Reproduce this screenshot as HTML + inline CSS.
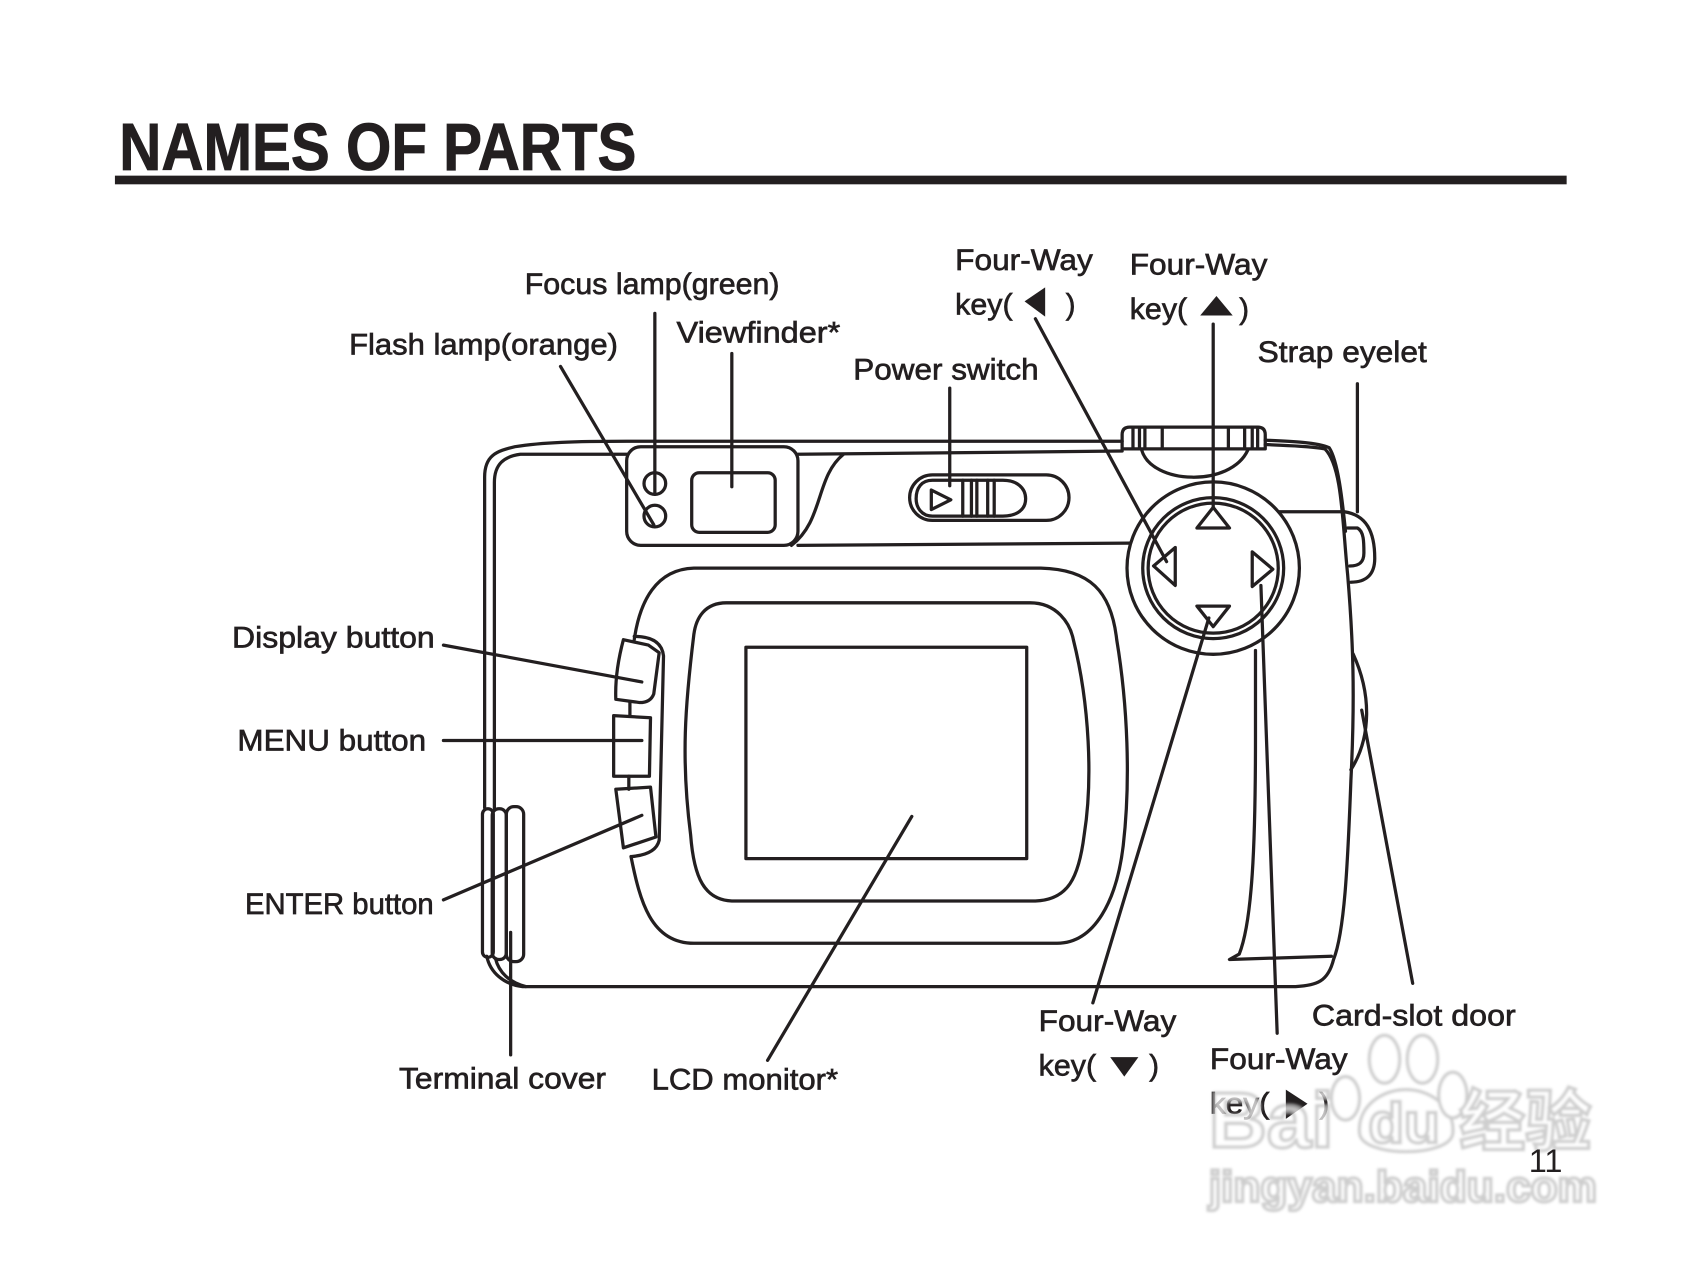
<!DOCTYPE html>
<html><head><meta charset="utf-8"><style>
html,body{margin:0;padding:0;background:#fff;width:1700px;height:1280px;overflow:hidden}
svg{display:block}
.l{fill:none;stroke:#231f20;stroke-width:3;stroke-linecap:round;stroke-linejoin:round}
.t{font-family:"Liberation Sans",sans-serif;font-size:27px;fill:#231f20;stroke:#231f20;stroke-width:.6}
.wm{font-family:"Liberation Sans","Noto Sans CJK SC",sans-serif;font-weight:bold;fill:#fff;stroke:#bbb;stroke-width:3}
</style></head><body>
<svg width="1700" height="1280" viewBox="0 0 1568 1180.6" xmlns="http://www.w3.org/2000/svg">
<defs><filter id="b" x="-5%" y="-5%" width="110%" height="110%"><feGaussianBlur stdDeviation="1.3"/></filter></defs>
<rect width="1568" height="1180.6" fill="#fff"/>
<text x="110" y="157" textLength="477" lengthAdjust="spacingAndGlyphs" font-family="'Liberation Sans',sans-serif" font-weight="bold" font-size="62" fill="#231f20" stroke="#231f20" stroke-width=".8">NAMES OF PARTS</text>
<rect x="106" y="162" width="1339" height="8" fill="#231f20"/>

<g class="l">
<!-- body -->
<path d="M447 745V440C447 420 458 416 475 412C500 408 530 407 578 407H1035"/>
<path d="M456 746V445C456 428 465 421 480 419H578"/>
<path d="M449 882C452 897 465 908 482 910H1195C1215 909 1225 905 1230 885C1240 860 1243 800 1246 720C1250 640 1248 590 1243 530C1238 480 1238 430 1222 414C1205 411 1185 411 1167 410"/>
<path d="M457 884C460 897 470 906 485 910"/>
<path d="M1167 406C1190 407 1215 408 1226 413C1234 425 1238 460 1241 490"/>
<rect x="445" y="746" width="10" height="137" rx="5"/>
<rect x="454" y="746" width="13" height="139" rx="6"/>
<rect x="467" y="744" width="16" height="143" rx="7"/>
<!-- flash panel -->
<rect x="578" y="412" width="158" height="91" rx="13"/>
<circle cx="604" cy="446" r="10"/>
<circle cx="604" cy="476" r="10"/>
<rect x="638" y="436" width="77" height="55" rx="7"/>
<path d="M736 419L1035 416"/>
<path d="M778 419C752 440 760 480 730 503"/>
<path d="M736 503L1042 501"/>
<!-- slider -->
<rect x="839" y="438" width="147" height="42" rx="21"/>
<path d="M860 443H925C938 443 946 450 946 460C946 470 938 476 925 476H860C850 476 845 468 845 460C845 450 850 443 860 443Z"/>
<path d="M859 452L877 461L859 470Z"/>
<path d="M888 443V476M896 443V476M901 443V476M911 443V476M917 443V476"/>
<!-- top dial -->
<path d="M1035 414V401Q1035 394 1042 394H1160Q1167 394 1167 401V414M1035 414H1167"/>
<path d="M1045 394V414M1051 394V414M1056 394V414M1072 394V414M1133 394V414M1148 394V414M1155 394V414M1160 394V414"/>
<path d="M1053 415C1062 447 1135 450 1151 415"/>
<!-- four-way -->
<circle cx="1119" cy="524" r="79.5"/>
<circle cx="1119" cy="524" r="65"/>
<circle cx="1119" cy="524" r="60"/>
<path d="M1104 487L1119 468L1134 487Z"/>
<path d="M1084 505L1064 522L1084 540Z"/>
<path d="M1155 509L1174 525L1155 541Z"/>
<path d="M1104 559H1134L1119 578Z"/>
<!-- strap -->
<path d="M1180 472H1240C1260 475 1268 490 1268 515C1268 530 1260 537 1246 537"/>
<path d="M1243 487H1252C1258 490 1258 500 1258 510C1258 520 1252 522 1245 522"/>
<!-- LCD frames -->
<path d="M585 590C590 555 605 525 640 524H960C1005 525 1025 545 1030 590C1040 650 1043 720 1036 780C1030 830 1010 870 975 870H640C600 870 590 830 582 790"/>
<path d="M670 556H950C975 556 987 575 990 590C1005 650 1008 720 1000 770C995 810 985 830 955 831H675C650 830 640 810 637 770C628 700 632 650 640 585C642 570 650 556 670 556Z"/>
<rect x="688" y="597" width="259" height="195"/>
<!-- buttons -->
<path d="M585 587Q610 587 612 605L608 775Q605 788 583 790"/>
<path d="M575 590L598 595L608 602L603 640Q600 648 590 648L568 645Q567 620 575 590Z" fill="#fff"/>
<path d="M566 660L600 662L599 716H566Z" fill="#fff"/>
<path d="M568 728L600 726L605 772L575 782Z" fill="#fff"/>
<path d="M581 648V660M580 716V728"/>
<!-- right interior -->
<path d="M1158 600V680C1158 780 1155 850 1143 880L1134 885L1228 882"/>
<path d="M1248 603C1265 640 1265 680 1246 710"/>
<!-- leaders -->
<path d="M517 338L603 484M604 289V456M675 326V449M876 358V448M955 294L1076 518M1119 299V468M1252 354V472M409 595L592 629M409 683H592M409 830L592 752M471 860V973M708 978L841 753M1008 925L1115 570M1178 953L1163 540M1303 907L1256 655"/>
</g>

<g class="t">
<text x="484" y="271" textLength="235" lengthAdjust="spacingAndGlyphs">Focus lamp(green)</text>
<text x="322" y="327" textLength="248" lengthAdjust="spacingAndGlyphs">Flash lamp(orange)</text>
<text x="624" y="316" textLength="151" lengthAdjust="spacingAndGlyphs">Viewfinder*</text>
<text x="787" y="350" textLength="171" lengthAdjust="spacingAndGlyphs">Power switch</text>
<text x="881" y="249" textLength="127" lengthAdjust="spacingAndGlyphs">Four-Way</text>
<text x="881" y="290" textLength="53" lengthAdjust="spacingAndGlyphs">key(</text>
<text x="983" y="290">)</text>
<text x="1042" y="253" textLength="127" lengthAdjust="spacingAndGlyphs">Four-Way</text>
<text x="1042" y="294" textLength="53" lengthAdjust="spacingAndGlyphs">key(</text>
<text x="1143" y="294">)</text>
<text x="1160" y="334" textLength="156" lengthAdjust="spacingAndGlyphs">Strap eyelet</text>
<text x="214" y="597" textLength="187" lengthAdjust="spacingAndGlyphs">Display button</text>
<text x="219" y="692" textLength="174" lengthAdjust="spacingAndGlyphs">MENU button</text>
<text x="226" y="843" textLength="174" lengthAdjust="spacingAndGlyphs">ENTER button</text>
<text x="368" y="1004" textLength="191" lengthAdjust="spacingAndGlyphs">Terminal cover</text>
<text x="601" y="1005" textLength="172" lengthAdjust="spacingAndGlyphs">LCD monitor*</text>
<text x="958" y="951" textLength="127" lengthAdjust="spacingAndGlyphs">Four-Way</text>
<text x="958" y="992" textLength="53" lengthAdjust="spacingAndGlyphs">key(</text>
<text x="1060" y="992">)</text>
<text x="1210" y="946" textLength="188" lengthAdjust="spacingAndGlyphs">Card-slot door</text>
<text x="1116" y="986" textLength="127" lengthAdjust="spacingAndGlyphs">Four-Way</text>
<text x="1116" y="1027" textLength="55" lengthAdjust="spacingAndGlyphs">key(</text>
<text x="1217" y="1027">)</text>
</g>
<g fill="#231f20">
<path d="M964 265V292L945 278Z"/>
<path d="M1107 291L1122 273L1137 291Z"/>
<path d="M1024 975H1050L1037 993Z"/>
<path d="M1186 1005L1206 1018L1186 1032Z"/>
</g>

<!-- watermark -->
<g opacity=".72" filter="url(#b)">
<text class="wm" x="1115" y="1058" font-size="72" textLength="115" lengthAdjust="spacingAndGlyphs">Bai</text>
<path d="M1254 1045C1252 1020 1275 1005 1297 1005C1320 1005 1342 1022 1340 1045C1338 1068 1256 1068 1254 1045Z" fill="#fff" stroke="#bbb" stroke-width="3"/>
<ellipse cx="1241" cy="1013" rx="13" ry="20" fill="#fff" stroke="#bbb" stroke-width="3"/>
<ellipse cx="1277" cy="977" rx="14" ry="22" fill="#fff" stroke="#bbb" stroke-width="3"/>
<ellipse cx="1312" cy="977" rx="14" ry="22" fill="#fff" stroke="#bbb" stroke-width="3"/>
<ellipse cx="1340" cy="1010" rx="13" ry="21" fill="#fff" stroke="#bbb" stroke-width="3"/>
<text class="wm" x="1262" y="1054" font-size="52" textLength="66" lengthAdjust="spacingAndGlyphs">du</text>
<text class="wm" x="1346" y="1056" font-size="62" textLength="122" lengthAdjust="spacingAndGlyphs">经验</text>
<text class="wm" x="1115" y="1108" font-size="40" textLength="358" lengthAdjust="spacingAndGlyphs">jingyan.baidu.com</text>
</g>
<text x="1410" y="1081" font-family="'Liberation Sans',sans-serif" font-size="30" fill="#231f20">11</text>
</svg>
</body></html>
